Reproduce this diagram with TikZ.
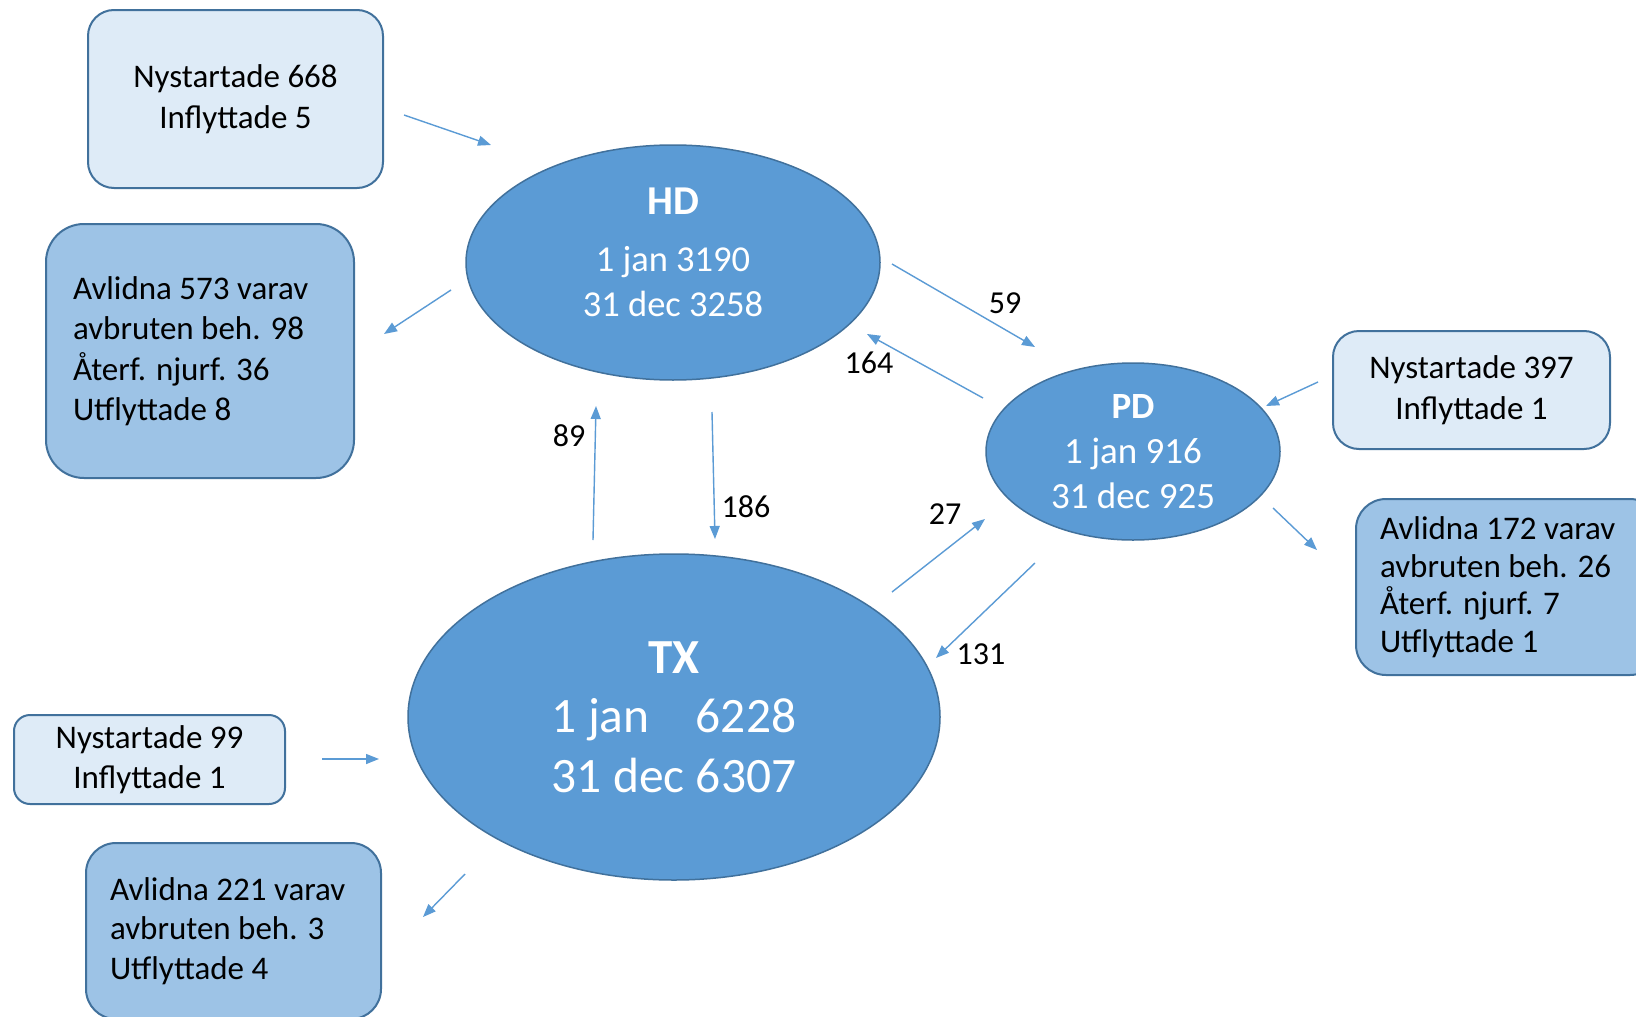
\documentclass[tikz,border=0pt]{standalone}
\usepackage{fontspec}
\setmainfont{Carlito}
\usetikzlibrary{shapes.geometric,arrows.meta}
\definecolor{ellfill}{HTML}{5B9BD5}
\definecolor{bord}{HTML}{41719C}
\definecolor{lightfill}{HTML}{DEEBF7}
\definecolor{darkfill}{HTML}{9DC3E6}
\definecolor{arrowc}{HTML}{5B9BD5}
\tikzset{
  boxfont/.style={font=\fontsize{33}{40.5}\selectfont},
  lbox/.style={draw=bord, fill=lightfill, line width=2pt, rounded corners=26pt, align=center, inner sep=0pt, boxfont},
  dbox/.style={draw=bord, fill=darkfill, line width=2pt, rounded corners=38pt, align=left, inner ysep=0pt, boxfont,
    execute at begin node={\spaceskip=0pt\relax\xspaceskip=0pt\relax}},
  ell/.style={ellipse, draw=bord, fill=ellfill, line width=1.5pt, inner sep=0pt},
  elltext/.style={text=white, align=center, inner sep=0pt},
  flow/.style={draw=arrowc, line width=1.4pt, -{Triangle[length=13pt,width=10pt]}},
  num/.style={font=\fontsize{32}{38}\selectfont, inner sep=0pt},
}
\begin{document}
\begin{tikzpicture}[x=1pt,y=-1pt]
\useasboundingbox (0,0) rectangle (1636,1017);
\clip (0,0) rectangle (1636,1017);
\fill[white] (0,0) rectangle (1636,1017);

% boxes
\node[lbox, minimum width=295pt, minimum height=178pt] (inHD) at (235.5,99) {Nystartade 668\\Inflyttade 5};
\node[dbox, minimum height=254pt, text width=254pt, inner xsep=27pt] (outHD) at (200,351) {Avlidna 573 varav\\avbruten beh. 98\\Återf. njurf. 36\\Utflyttade 8};
\node[lbox, minimum width=277pt, minimum height=118pt] (inPD) at (1471.5,390) {Nystartade 397\\Inflyttade 1};
\node[dbox, rounded corners=30pt, minimum height=176pt, text width=256pt, inner xsep=24pt, font=\fontsize{33}{37.5}\selectfont] (outPD) at (1508,587) {Avlidna 172 varav\\avbruten beh. 26\\Återf. njurf. 7\\Utflyttade 1};
\node[lbox, rounded corners=16pt, minimum width=271pt, minimum height=89pt] (inTX) at (149.5,759.5) {Nystartade 99\\Inflyttade 1};
\node[dbox, rounded corners=30pt, minimum height=176pt, text width=247pt, inner xsep=24pt, font=\fontsize{33}{39.5}\selectfont] (outTX) at (233.5,931) {Avlidna 221 varav\\avbruten beh. 3\\Utflyttade 4};

% ellipses
\node[ell, minimum width=414pt, minimum height=235pt] (HD) at (673,262.5) {};
\node[ell, minimum width=294pt, minimum height=177pt] (PD) at (1133,451.5) {};
\node[ell, minimum width=532pt, minimum height=326pt] (TX) at (674,717) {};

\node[elltext, font=\fontsize{36.5}{45}\selectfont] (HDt) at (673,252) {{\fontsize{41}{45}\selectfont\bfseries HD}\\[12pt]1 jan 3190\\31 dec 3258};
\node[elltext, font=\fontsize{37}{45}\selectfont] (PDt) at (1133,452) {{\bfseries PD}\\1 jan 916\\31 dec 925};
\node[elltext, font=\fontsize{49.5}{59.5}\selectfont] (TXt) at (674,717) {{\fontsize{49}{59.5}\selectfont\bfseries TX}\\{\setbox0\hbox{31 dec 6307}\hbox to \wd0{1 jan\hfill 6228}}\\31 dec 6307};

% arrow end points
\coordinate (a1s) at (404,115);  \coordinate (a1e) at (491,145);
\coordinate (a2s) at (451,290);  \coordinate (a2e) at (384,334);
\coordinate (a3s) at (892,264);  \coordinate (a3e) at (1035,347);
\coordinate (a4s) at (983,398);  \coordinate (a4e) at (867,334);
\coordinate (a5s) at (593,540);  \coordinate (a5e) at (596,406);
\coordinate (a6s) at (712,412);  \coordinate (a6e) at (715,539);
\coordinate (a7s) at (892,592);  \coordinate (a7e) at (985,519);
\coordinate (a8s) at (1035,563); \coordinate (a8e) at (936,658);
\coordinate (a9s) at (1318,382); \coordinate (a9e) at (1266,406);
\coordinate (a10s) at (1273,508); \coordinate (a10e) at (1317,550);
\coordinate (a11s) at (322,759); \coordinate (a11e) at (379,759);
\coordinate (a12s) at (465,874); \coordinate (a12e) at (423,917);

\draw[flow] (a1s) -- (a1e);
\draw[flow] (a2s) -- (a2e);
\draw[flow] (a3s) -- (a3e);
\draw[flow] (a4s) -- (a4e);
\draw[flow] (a5s) -- (a5e);
\draw[flow] (a6s) -- (a6e);
\draw[flow] (a7s) -- (a7e);
\draw[flow] (a8s) -- (a8e);
\draw[flow] (a9s) -- (a9e);
\draw[flow] (a10s) -- (a10e);
\draw[flow] (a11s) -- (a11e);
\draw[flow] (a12s) -- (a12e);

% labels
\node[num] (l59) at (1005,303) {59};
\node[num] (l164) at (869,363) {164};
\node[num] (l89) at (569,436) {89};
\node[num] (l186) at (746,507) {186};
\node[num] (l27) at (945,514) {27};
\node[num] (l131) at (981,654) {131};
\end{tikzpicture}
\end{document}
